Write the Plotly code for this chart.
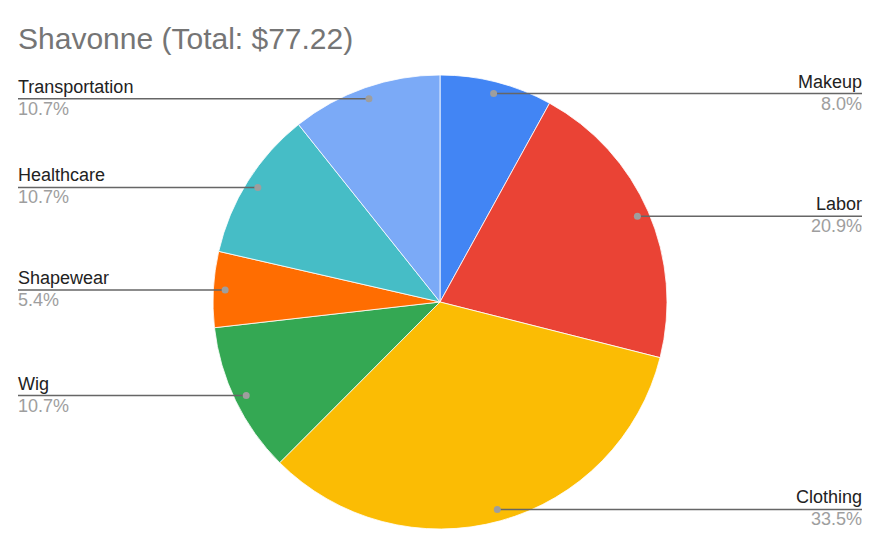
import math
import plotly.graph_objects as go

# ---- data ----
categories = ["Makeup", "Labor", "Clothing", "Wig", "Shapewear", "Healthcare", "Transportation"]
values = [6.19, 16.16, 25.90, 8.27, 4.16, 8.27, 8.27]
colors = ["#4285F4", "#EA4335", "#FBBC04", "#34A853", "#FF6D01", "#46BDC6", "#7BAAF7"]
title_name = "Shavonne"

# ---- layout constants (pixels) ----
W, H = 880, 535
CX, CY, R = 440, 302, 227
DOT_R = 0.948 * R
LEFT_X, RIGHT_X = 18, 862
PAD = 2
FONT = "Liberation Sans, Arial, sans-serif"

total = sum(values)


def px(x):
    return x / W


def py(y):
    return 1 - y / H


fig = go.Figure()
fig.add_trace(go.Pie(
    labels=categories,
    values=values,
    sort=False,
    direction="clockwise",
    rotation=0,
    marker=dict(colors=colors, line=dict(color="white", width=0.8)),
    textinfo="none",
    hoverinfo="label+value+percent",
    showlegend=False,
    domain=dict(x=[px(CX - R), px(CX + R)], y=[py(CY + R), py(CY - R)]),
))

shapes = []
annotations = []
cum = 0.0
for name, v in zip(categories, values):
    mid = (cum + v / 2) / total
    cum += v
    ang = 2 * math.pi * mid
    dx = math.sin(ang) * DOT_R
    dy = -math.cos(ang) * DOT_R
    dxp, dyp = CX + dx, CY + dy
    pct = f"{v / total * 100:.1f}%"
    right = mid < 0.5
    x_end = RIGHT_X if right else LEFT_X
    x_txt = x_end + PAD if right else x_end - PAD
    shapes.append(dict(type="line", xref="paper", yref="paper",
                       x0=px(dxp), y0=py(dyp), x1=px(x_end), y1=py(dyp),
                       line=dict(color="#666666", width=1.5)))
    shapes.append(dict(type="circle", xref="paper", yref="paper",
                       x0=px(dxp - 3.5), x1=px(dxp + 3.5),
                       y0=py(dyp + 3.5), y1=py(dyp - 3.5),
                       fillcolor="#9e9e9e", line=dict(width=0)))
    anchor = "right" if right else "left"
    annotations.append(dict(xref="paper", yref="paper", x=px(x_txt), y=py(dyp - 12),
                            text=name, showarrow=False, xanchor=anchor, yanchor="middle",
                            font=dict(family=FONT, size=18, color="#222222")))
    annotations.append(dict(xref="paper", yref="paper", x=px(x_txt), y=py(dyp + 10),
                            text=pct, showarrow=False, xanchor=anchor, yanchor="middle",
                            font=dict(family=FONT, size=18, color="#9e9e9e")))

annotations.append(dict(xref="paper", yref="paper", x=px(LEFT_X - PAD), y=py(39),
                        text=f"{title_name} (Total: ${total:.2f})", showarrow=False,
                        xanchor="left", yanchor="middle",
                        font=dict(family=FONT, size=30, color="#757575")))

fig.update_layout(
    width=W, height=H,
    margin=dict(l=0, r=0, t=0, b=0),
    paper_bgcolor="white",
    plot_bgcolor="white",
    shapes=shapes,
    annotations=annotations,
)

fig.write_html("out.html",
               config={"displayModeBar": False},
               post_script="document.body.style.margin='0';document.body.style.overflow='hidden';")
